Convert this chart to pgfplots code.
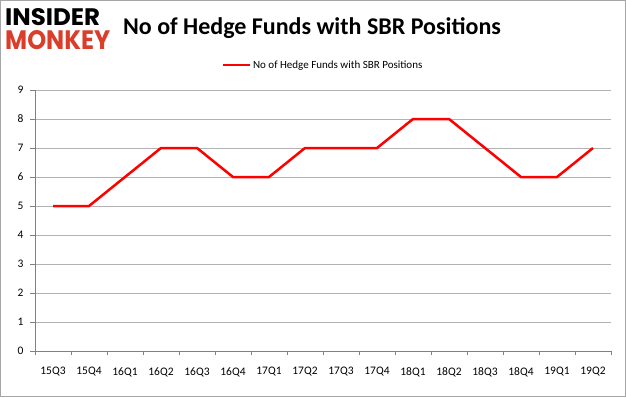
\documentclass[border=0pt]{standalone}
\usepackage{pgfplots}
\pgfplotsset{compat=1.18}
\usepackage{fontspec}
\setmainfont{Carlito}
\newfontfamily\logofont{Poppins}
\definecolor{logored}{RGB}{218,62,42}
\begin{document}
\begin{tikzpicture}[x=1pt,y=1pt]
\useasboundingbox (0,0) rectangle (626,397);
\draw[gray!70] (0.5,0.5) rectangle (625.5,396.5);
\node[anchor=base west,inner sep=0] at (5,371) {\resizebox{95pt}{17pt}{\logofont\bfseries INSIDER}};
\node[anchor=base west,inner sep=0] at (5,347) {\resizebox{105pt}{19pt}{\logofont\bfseries\color{logored}MONKEY}};
\node[anchor=center,font=\bfseries\fontsize{24}{24}\selectfont,inner sep=0] at (312,369) {No of Hedge Funds with SBR Positions};
\begin{axis}[
  at={(35pt,46pt)}, anchor=south west,
  scale only axis, width=576pt, height=261pt,
  xmin=-0.5, xmax=15.5, ymin=0, ymax=9,
  xtick={0,...,15},
  xticklabels={15Q3,15Q4,16Q1,16Q2,16Q3,16Q4,17Q1,17Q2,17Q3,17Q4,18Q1,18Q2,18Q3,18Q4,19Q1,19Q2},
  minor xtick={-0.5,0.5,...,15.5},
  major x tick style={draw=none},
  minor x tick style={gray},
  minor tick length=4pt,
  ytick={0,...,9},
  major y tick style={gray},
  major tick length=5pt,
  tick align=outside,
  tick pos=left,
  ymajorgrids, grid style={gray!60},
  axis x line*=bottom, axis y line*=left,
  axis line style={gray},
  x tick label style={font=\fontsize{11.5}{12}\selectfont, yshift=-8pt},
  y tick label style={font=\fontsize{11.5}{12}\selectfont, xshift=-3pt},
  /pgf/number format/assume math mode=true,
  legend style={at={(0.5,1)}, anchor=south, yshift=16pt, draw=none, font=\fontsize{11}{12}\selectfont, legend columns=1, fill=none},
  legend cell align=left,
  legend image code/.code={\draw[#1,line width=2.5pt] (0pt,0pt) -- (27pt,0pt);},
]
\addplot[red, line width=2.5pt, mark=none] coordinates {
(0,5) (1,5) (2,6) (3,7) (4,7) (5,6) (6,6) (7,7) (8,7) (9,7) (10,8) (11,8) (12,7) (13,6) (14,6) (15,7)};
\addlegendentry{No of Hedge Funds with SBR Positions}
\end{axis}
\end{tikzpicture}
\end{document}
